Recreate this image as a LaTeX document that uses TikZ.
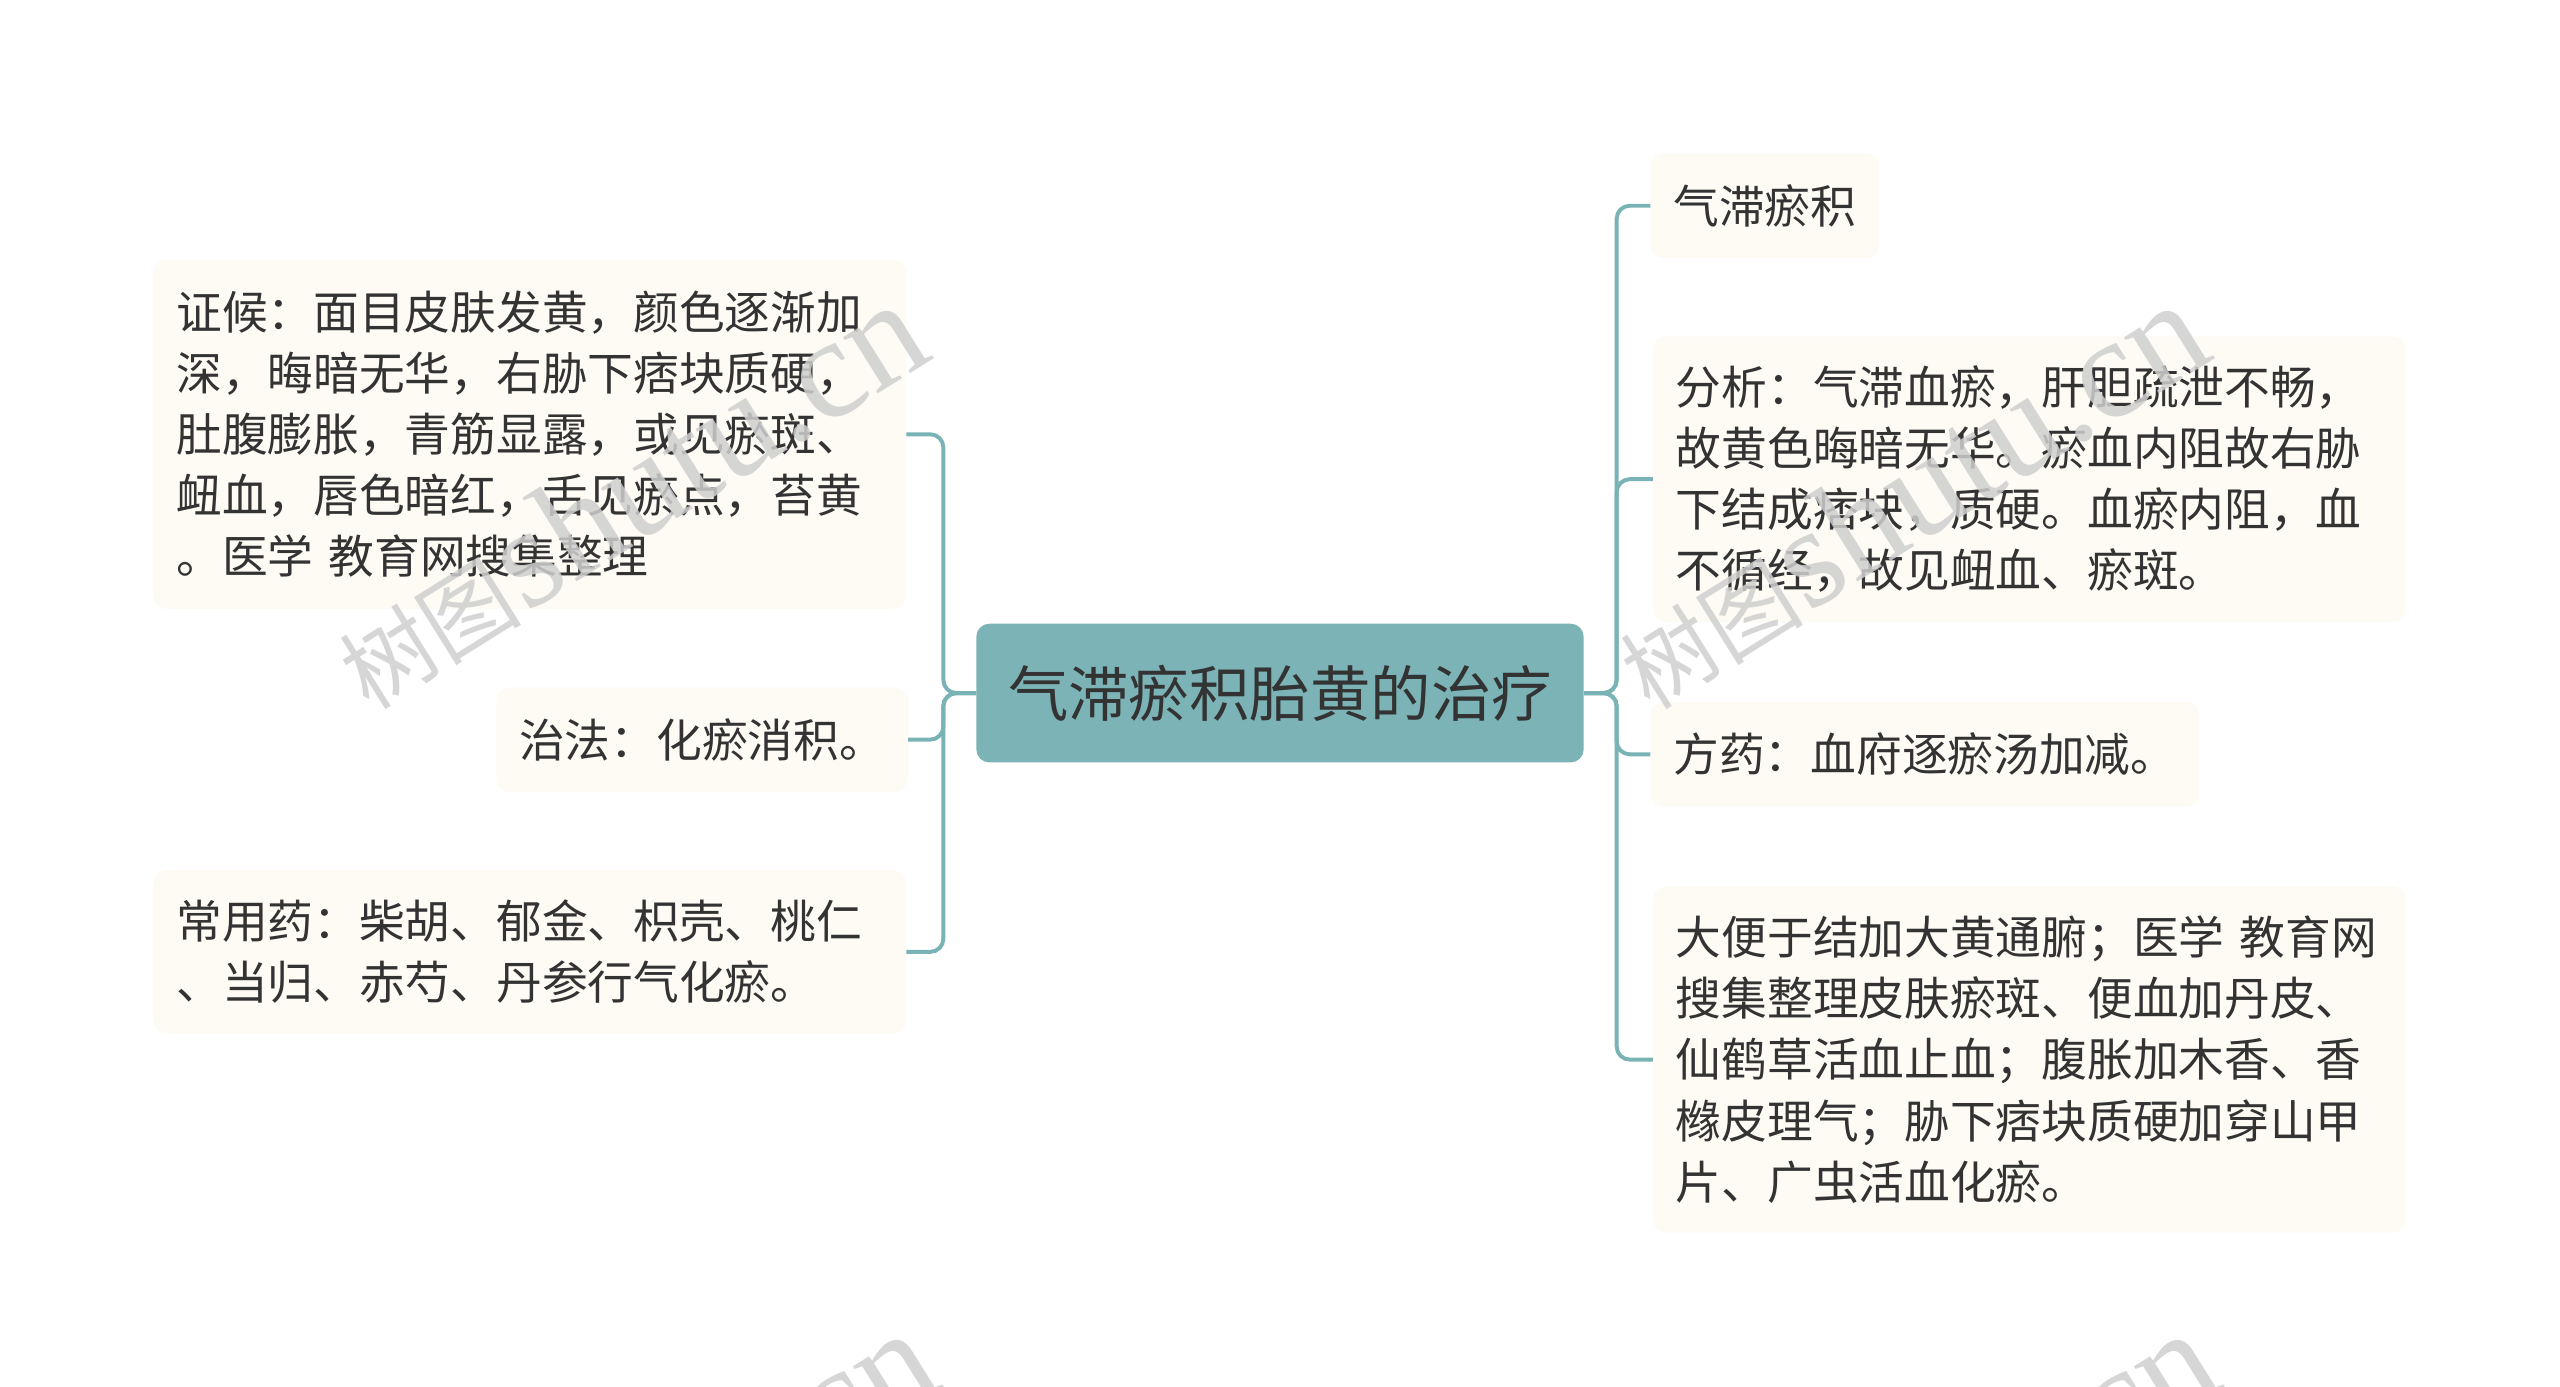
\documentclass[tikz,border=0pt]{standalone}
\usepackage{fontspec}
\setmainfont{Noto Sans CJK SC}
\newfontfamily\wmlatin{Liberation Serif}
\definecolor{rootbg}{HTML}{7BB3B6}
\definecolor{leafbg}{HTML}{FDFBF3}
\definecolor{linkcol}{HTML}{7AB3B5}
\definecolor{txtcol}{HTML}{333333}
\definecolor{wmcol}{HTML}{CFCFCF}
\newcommand{\wmtext}{{\fontsize{56}{56}\selectfont 树图}\,{\wmlatin\fontsize{88}{88}\selectfont shutu.cn}}

\begin{document}
\begin{tikzpicture}[x=1pt,y=-1pt,
    root/.style={fill=rootbg,rounded corners=8pt,text=txtcol,minimum width=372pt,minimum height=85pt,inner sep=0pt,font=\fontsize{37}{44}\selectfont},
    leaf/.style={fill=leafbg,rounded corners=8pt,text=txtcol,inner xsep=14pt,inner ysep=0pt,align=left,font=\fontsize{28}{37.4}\selectfont},
    wide/.style={leaf,text width=433pt},
    link/.style={draw=linkcol,line width=2.4pt,rounded corners=8pt},
    wmark/.style={text=wmcol,opacity=0.85,rotate=32,anchor=base west,inner sep=0pt}]
    \useasboundingbox [fill=white] (0,0) rectangle (1568,849.5);

    \node [root] (root) at (784,424.5) {气滞瘀积胎黄的治疗};

    \node [wide,minimum height=214pt] (zhenghou) at (324.5,266) {证候：面目皮肤发黄，颜色逐渐加\\深，晦暗无华，右胁下痞块质硬，\\肚腹膨胀，青筋显露，或见瘀斑、\\衄血，唇色暗红，舌见瘀点，苔黄\\。医学 教育网搜集整理};
    \node [leaf,minimum height=64pt] (zhifa) at (430,453) {治法：化瘀消积。};
    \node [wide,minimum height=100pt] (yao) at (324.5,583) {常用药：柴胡、郁金、枳壳、桃仁\\、当归、赤芍、丹参行气化瘀。};

    \node [leaf,minimum height=64pt] (bing) at (1081,126) {气滞瘀积};
    \node [wide,minimum height=175pt] (fenxi) at (1243,293.5) {分析：气滞血瘀，肝胆疏泄不畅，\\故黄色晦暗无华。瘀血内阻故右胁\\下结成痞块，质硬。血瘀内阻，血\\不循经，故见衄血、瘀斑。};
    \node [leaf,minimum height=64pt] (fangyao) at (1179,462) {方药：血府逐瘀汤加减。};
    \node [wide,minimum height=212pt] (jiajian) at (1243,649) {大便于结加大黄通腑；医学 教育网\\搜集整理皮肤瘀斑、便血加丹皮、\\仙鹤草活血止血；腹胀加木香、香\\橼皮理气；胁下痞块质硬加穿山甲\\片、广虫活血化瘀。};

    \foreach \t in {zhenghou,zhifa,yao}
        \draw [link] (root.west) -- ++(-20,0) |- (\t.east);
    \foreach \t in {bing,fenxi,fangyao,jiajian}
        \draw [link] (root.east) -- ++(20,0) |- (\t.west);

    \node [wmark] (wm1) at (226,436) {\wmtext};
    \node [wmark] (wm2) at (1011,436) {\wmtext};
    \node [wmark] (wm3) at (232,1066) {\wmtext};
    \node [wmark] (wm4) at (1017,1066) {\wmtext};
\end{tikzpicture}
\end{document}
